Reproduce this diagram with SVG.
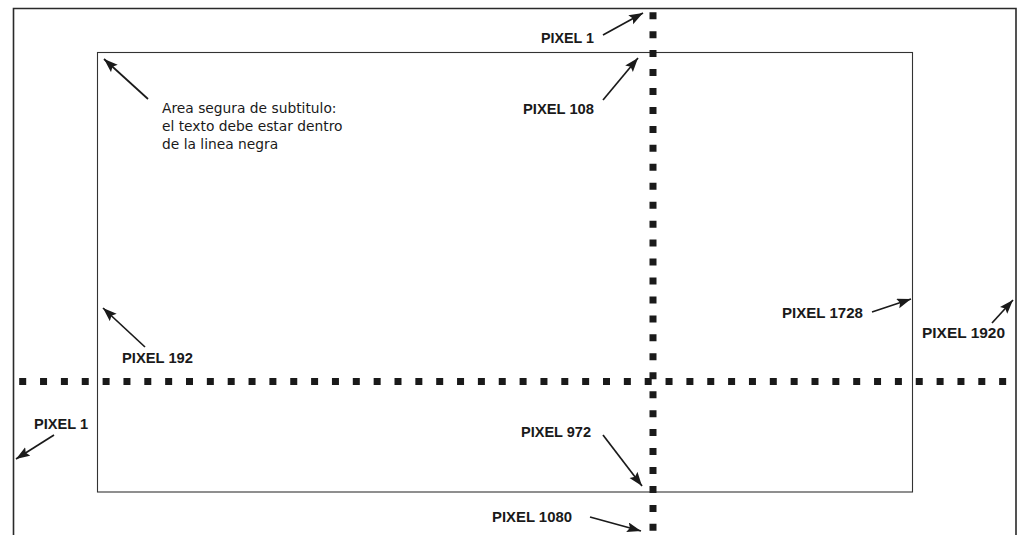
<svg xmlns="http://www.w3.org/2000/svg" width="1033" height="535" viewBox="0 0 1033 535">
<style>
.lbl{font-family:"Liberation Sans",Arial,sans-serif;font-weight:bold;font-size:14px;fill:#1a1a1a}
.note{font-family:"DejaVu Sans","Liberation Sans",sans-serif;font-size:13.8px;fill:#1a1a1a}
.arr{stroke:#1a1a1a;stroke-width:1.7;fill:none;marker-end:url(#ah)}
.dots{stroke:#1a1a1a;stroke-width:7;fill:none}
</style>
<defs>
<marker id="ah" markerUnits="userSpaceOnUse" markerWidth="15" markerHeight="11" refX="14" refY="5" orient="auto">
<path d="M0,0 L14,5 L0,10 L2.5,5 z" fill="#1a1a1a"/>
</marker>
</defs>
<rect width="1033" height="535" fill="#fff"/>
<g id="frame-outer">
<path d="M13.5,545 V8.5 H1016 V545" fill="none" stroke="#2a2a2a" stroke-width="1.6"/>
</g>
<g id="frame-safe">
<rect x="97.5" y="52.5" width="815" height="439.5" fill="none" stroke="#333" stroke-width="1.1"/>
</g>
<g id="dotted-lines">
<line class="dots" x1="653" y1="12.2" x2="653" y2="531" stroke-dasharray="7 11.95"/>
<line class="dots" x1="19.2" y1="381.5" x2="1006.2" y2="381.5" stroke-dasharray="7 13.85"/>
</g>
<g id="connectors">
<line class="arr" x1="603" y1="35" x2="643" y2="13"/>
<line class="arr" x1="603" y1="100" x2="638" y2="58"/>
<line class="arr" x1="148" y1="99" x2="104" y2="59"/>
<line class="arr" x1="145" y1="347" x2="103" y2="308"/>
<line class="arr" x1="54" y1="435" x2="16" y2="459"/>
<line class="arr" x1="872" y1="312" x2="911" y2="299"/>
<line class="arr" x1="992" y1="323" x2="1013" y2="300"/>
<line class="arr" x1="603" y1="435" x2="642" y2="486"/>
<line class="arr" x1="590" y1="517" x2="641" y2="531"/>
</g>
<g id="label-pixel1-top"><text class="lbl" x="541" y="43" textLength="53" lengthAdjust="spacingAndGlyphs">PIXEL 1</text></g>
<g id="label-pixel108"><text class="lbl" x="523" y="114" textLength="71" lengthAdjust="spacingAndGlyphs">PIXEL 108</text></g>
<g id="label-note">
<text class="note" x="162" y="113">Area segura de subtitulo:</text>
<text class="note" x="162" y="131">el texto debe estar dentro</text>
<text class="note" x="162" y="149">de la linea negra</text>
</g>
<g id="label-pixel192"><text class="lbl" x="122" y="363" textLength="71" lengthAdjust="spacingAndGlyphs">PIXEL 192</text></g>
<g id="label-pixel1-left"><text class="lbl" x="34" y="429" textLength="54" lengthAdjust="spacingAndGlyphs">PIXEL 1</text></g>
<g id="label-pixel1728"><text class="lbl" x="782" y="318" textLength="81" lengthAdjust="spacingAndGlyphs">PIXEL 1728</text></g>
<g id="label-pixel1920"><text class="lbl" x="922" y="338" textLength="83" lengthAdjust="spacingAndGlyphs">PIXEL 1920</text></g>
<g id="label-pixel972"><text class="lbl" x="521" y="437" textLength="70" lengthAdjust="spacingAndGlyphs">PIXEL 972</text></g>
<g id="label-pixel1080"><text class="lbl" x="492" y="522" textLength="80" lengthAdjust="spacingAndGlyphs">PIXEL 1080</text></g>
</svg>
